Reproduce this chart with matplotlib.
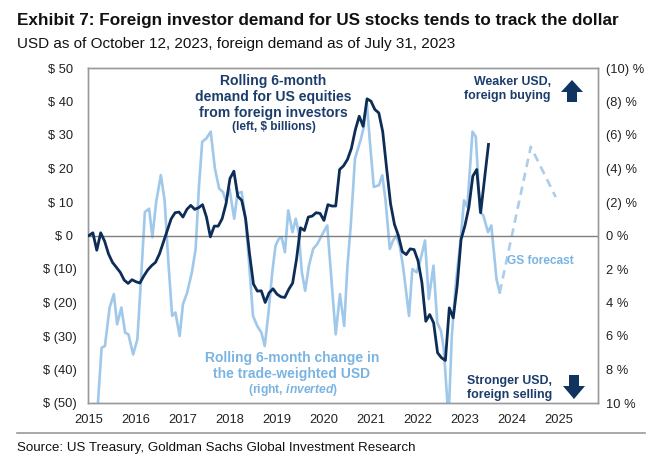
import matplotlib
matplotlib.use("Agg")
import matplotlib.pyplot as plt
from matplotlib.patches import Polygon
import numpy as np

plt.rcParams["font.family"] = ["Liberation Sans", "DejaVu Sans"]
plt.rcParams["mathtext.fontset"] = "custom"
plt.rcParams["mathtext.rm"] = "Liberation Sans:bold"
plt.rcParams["mathtext.it"] = "Liberation Sans:italic:bold"

NAVY = "#0d2d57"
NAVY_TXT = "#1c3d6b"
LIGHT = "#9fc8ea"
LIGHT_TXT = "#7ab4e2"
GREY = "#9a9a9a"

# rolling 6m foreign demand for US equities, $bn, monthly from Jan 2015 to Jul 2023
demand = [
    0.0, 0.8, -4.4, 0.8, -1.7, -5.5, -8.0, -9.5, -11.0, -13.3, -14.3, -13.2,      # 2015
    -13.8, -14.2, -12.1, -10.3, -9.0, -8.0, -5.5, -2.0, 1.5, 5.0, 6.8, 7.0,       # 2016
    5.5, 7.8, 9.0, 7.8, 8.3, 9.2, 5.5, -0.4, 2.8, 2.8, 5.0, 9.5,                  # 2017
    17.0, 19.2, 11.7, 10.5, 5.0, -5.5, -14.5, -16.6, -16.5, -20.0, -17.1, -15.9,  # 2018
    -17.5, -18.3, -18.5, -16.1, -14.2, -7.0, 2.3, 1.5, 5.5, 5.8, 6.8, 6.6,        # 2019
    4.5, 9.2, 8.8, 8.8, 19.7, 20.8, 22.7, 26.0, 31.5, 35.6, 32.6, 40.8,           # 2020
    40.1, 37.6, 36.6, 31.0, 20.0, 9.5, 3.3, 0.0, -4.8, -5.7, -4.0, -4.2,          # 2021
    -7.5, -14.0, -25.6, -23.6, -26.1, -35.0, -36.5, -37.3, -21.6, -24.6, -15.1, -1.2,  # 2022
    3.0, 8.5, 17.7, 19.7, 6.8, 17.0, 27.2,                                         # 2023
]

# rolling 6m change in trade-weighted USD, % (plotted inverted on the right)
usd_dates = [
    2015.12, 2015.27, 2015.34, 2015.44, 2015.53, 2015.60, 2015.69, 2015.77, 2015.84, 2015.94,
    2016.03, 2016.10, 2016.19, 2016.28, 2016.35, 2016.43, 2016.53, 2016.61, 2016.69, 2016.77,
    2016.84, 2016.93, 2017.00, 2017.09, 2017.19, 2017.27, 2017.34, 2017.41, 2017.50, 2017.59,
    2017.68, 2017.77, 2017.85, 2017.91, 2017.99, 2018.09, 2018.16, 2018.25, 2018.33, 2018.40,
    2018.49, 2018.58, 2018.67, 2018.74, 2018.82, 2018.90, 2018.97, 2019.04, 2019.10, 2019.17,
    2019.24, 2019.33, 2019.40, 2019.46, 2019.53, 2019.60, 2019.68, 2019.77, 2019.86, 2019.97,
    2020.07, 2020.18, 2020.25, 2020.34, 2020.43, 2020.50, 2020.57, 2020.66, 2020.78, 2020.85,
    2020.91, 2020.98, 2021.06, 2021.17, 2021.24, 2021.31, 2021.40, 2021.47, 2021.54, 2021.61,
    2021.68, 2021.75, 2021.81, 2021.88, 2021.97, 2022.04, 2022.15, 2022.23, 2022.33, 2022.41,
    2022.49, 2022.55, 2022.65, 2022.72, 2022.80, 2022.91, 2022.98, 2023.05, 2023.16, 2023.23,
    2023.32, 2023.39, 2023.49, 2023.56, 2023.63, 2023.67, 2023.74,
]
usd_chg = [
    13.0, 6.7, 6.6, 4.3, 3.5, 5.3, 4.3, 5.8, 5.9, 7.1,
    6.2, 3.0, -1.4, -1.6, 0.1, -2.0, -3.6, -2.1, 1.6, 4.8,
    4.6, 6.0, 4.1, 3.4, 2.2, 0.8, -2.9, -5.6, -5.8, -6.2,
    -4.0, -2.8, -2.6, -2.1, -2.8, -1.0, -2.5, -2.6, -1.0, 1.4,
    4.8, 5.4, 5.8, 6.6, 4.6, 2.2, 0.6, 0.2, 0.1, 1.0,
    -1.5, -0.2, -1.0, -0.2, 2.2, 3.3, 1.8, 0.8, 0.5, -0.1,
    -0.6, 3.4, 5.9, 3.5, 5.4, 1.8, -0.6, -4.6, -5.7, -6.5,
    -8.0, -5.5, -2.9, -3.0, -3.6, -2.1, 0.8, 0.3, 0.0, 0.6,
    1.8, 3.4, 4.8, 2.0, 2.2, 1.6, 0.3, 3.8, 1.8, 5.2,
    5.7, 6.8, 11.0, 6.0, 3.0, 0.2, -2.1, -1.7, -6.2, -5.9,
    -1.4, -1.2, -0.2, -0.6, 1.4, 2.6, 3.4,
]

# GS forecast path
fc_dates = [2023.74, 2024.40, 2024.93]
fc_chg = [3.4, -5.3, -2.3]

years = list(range(2015, 2026))
left_ticks = list(range(-50, 51, 10))
right_ticks = list(range(-10, 11, 2))


def left_fmt(v):
    return f"$ ({abs(v)})" if v < 0 else f"$ {v} "


def right_fmt(v):
    return f"({abs(v)}) %" if v < 0 else f"{v} %"


W, H = 660, 463
fig = plt.figure(figsize=(W / 100, H / 100), dpi=100)
ax = fig.add_axes([88 / W, 1 - 403 / H, 510 / W, 335 / H])
ax2 = ax.twinx()

dates = 2015 + np.arange(len(demand)) / 12
ax.axhline(0, color="#7f7f7f", lw=1.0, zorder=1)
ax2.plot(usd_dates, usd_chg, color=LIGHT, lw=1.9, zorder=2)
ax2.plot(fc_dates, fc_chg, color="#abcde9", lw=1.9, ls=(0, (3.2, 2.2)), zorder=2)
ax.plot(dates, demand, color=NAVY, lw=2.0, zorder=3)
ax.set_zorder(ax2.get_zorder() + 1)
ax.patch.set_visible(False)

ax.set_xlim(2014.98, 2025.83)
ax.set_ylim(-50, 50)
ax.set_yticks(left_ticks)
ax.set_yticklabels([left_fmt(v) for v in left_ticks])
ax.set_xticks(years)
ax.set_xticklabels([str(y) for y in years])
ax2.set_ylim(10, -10)
ax2.set_yticks(right_ticks)
ax2.set_yticklabels([right_fmt(v) for v in right_ticks])

for a in (ax, ax2):
    a.tick_params(length=0, labelsize=9.3, colors="#222222")
    for s in a.spines.values():
        s.set_color(GREY)
        s.set_linewidth(1.0)
ax.tick_params(axis="y", pad=8)
ax.tick_params(axis="x", pad=8)
ax2.tick_params(axis="y", pad=6)


def fx(px):
    return px / W


def fy(py):
    return 1 - py / H


# titles
fig.text(fx(17), fy(20), "Exhibit 7: Foreign investor demand for US stocks tends to track the dollar",
         fontsize=12.3, fontweight="bold", va="center", color="#111111")
fig.text(fx(17), fy(44), "USD as of October 12, 2023, foreign demand as of July 31, 2023",
         fontsize=11, va="center", color="#111111")

# series labels
fig.text(fx(273), fy(97), "Rolling 6-month\ndemand for US equities\nfrom foreign investors",
         ha="center", va="center", fontsize=10.1, fontweight="bold", color=NAVY_TXT, linespacing=1.15)
fig.text(fx(274), fy(127), "(left, $ billions)", ha="center", va="center",
         fontsize=8.5, fontweight="bold", color=NAVY_TXT)
fig.text(fx(292), fy(366), "Rolling 6-month change in\nthe trade-weighted USD",
         ha="center", va="center", fontsize=10.0, fontweight="bold", color=LIGHT_TXT, linespacing=1.15)
fig.text(fx(293), fy(390), r"(right, $\it{inverted}$)", ha="center", va="center",
         fontsize=8.7, fontweight="bold", color=LIGHT_TXT)

fig.text(fx(551), fy(89), "Weaker USD,\nforeign buying", ha="right", va="center",
         fontsize=8.9, fontweight="bold", color=NAVY_TXT, linespacing=1.25)
fig.text(fx(552), fy(388), "Stronger USD,\nforeign selling", ha="right", va="center",
         fontsize=8.9, fontweight="bold", color=NAVY_TXT, linespacing=1.25)
fig.text(fx(507), fy(261), "GS forecast", ha="left", va="center",
         fontsize=8.6, fontweight="bold", color=LIGHT_TXT)

# arrows
up = [(567, 102), (567, 92), (561, 92), (572, 80), (583, 92), (577, 92), (577, 102)]
down = [(569, 375), (579, 375), (579, 386), (585, 386), (574, 399), (563, 386), (569, 386)]
for pts in (up, down):
    fig.patches.append(Polygon([(fx(x), fy(y)) for x, y in pts], closed=True,
                               transform=fig.transFigure, facecolor="#0f3460", edgecolor="none"))

# footer
fig.add_artist(plt.Line2D([fx(17), fx(645)], [fy(433), fy(433)], transform=fig.transFigure,
                          color="#9a9a9a", lw=1.2))
fig.text(fx(17), fy(448), "Source: US Treasury, Goldman Sachs Global Investment Research",
         fontsize=9.6, va="center", color="#111111")

fig.savefig("out.png", dpi=100)
